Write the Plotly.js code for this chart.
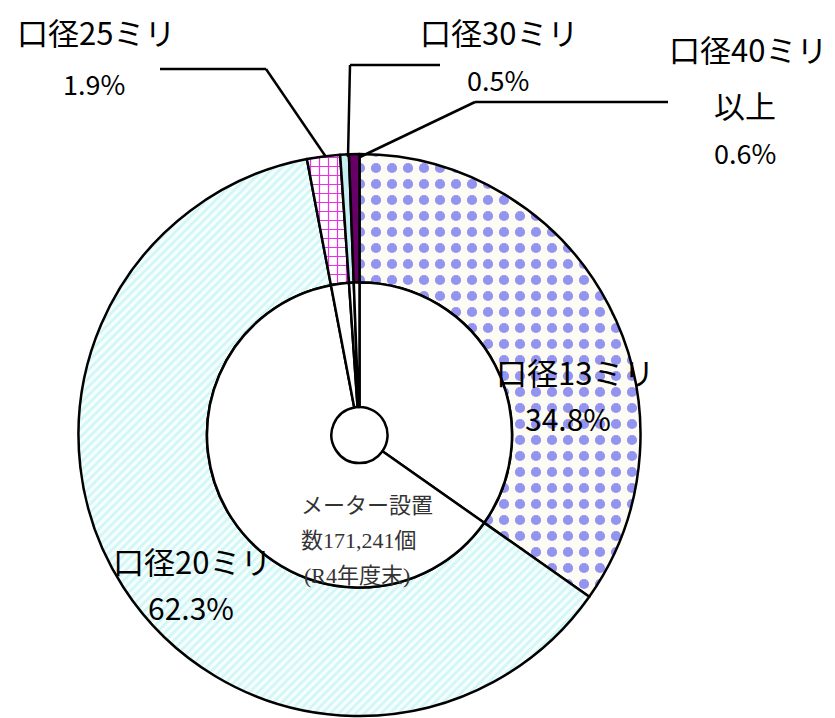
<!DOCTYPE html>
<html>
<head>
<meta charset="utf-8">
<script src="https://cdn.plot.ly/plotly-3.0.1.min.js"></script>
<style>html,body{margin:0;padding:0;background:#fff;overflow:hidden;}</style>
</head>
<body>
<div id="chart" style="width:835px;height:718px;"></div>
<script>
// Data
const categories = ['口径13ミリ', '口径20ミリ', '口径25ミリ', '口径30ミリ', '口径40ミリ以上'];
const shares = [34.8, 62.3, 1.9, 0.5, 0.6];
const labelNames = ['口径13ミリ', '口径20ミリ', '口径25ミリ', '口径30ミリ', '口径40ミリ', '以上'];
const centerLines = ['メーター設置', '数171,241個', '(R4年度末)'];

const W = 835, H = 718;
const px = x => x / W;
const py = y => 1 - y / H;

const outer = {
  type: 'pie',
  values: shares,
  labels: categories,
  sort: false,
  direction: 'clockwise',
  rotation: 0,
  hole: 0.543,
  textinfo: 'none',
  hoverinfo: 'label+percent',
  showlegend: false,
  domain: {x: [78.5 / W, 640.5 / W], y: [2 / H, 564 / H]},
  marker: {
    colors: ['#ffffff', '#e6fafa', '#ffffff', '#c8f0f4', '#660066'],
    line: {color: '#000000', width: 2.5},
    pattern: {
      shape: ['.', '/', '+', '', ''],
      fgcolor: ['#9494f0', '#d0f6f6', '#e633e6', '#c8f0f4', '#660066'],
      bgcolor: ['#fcfcf4', '#f6fefe', '#ffffff', '#c8f0f4', '#660066'],
      size: [16, 6, 9, 8, 8],
      solidity: [0.32, 0.45, 0.25, 0.3, 0.3],
      fillmode: 'replace'
    }
  }
};

const inner = {
  type: 'pie',
  values: shares,
  labels: categories,
  sort: false,
  direction: 'clockwise',
  rotation: 0,
  hole: 0.184,
  textinfo: 'none',
  hoverinfo: 'none',
  showlegend: false,
  domain: {x: [207 / W, 512 / W], y: [130.5 / H, 435.5 / H]},
  marker: {
    colors: ['#ffffff', '#ffffff', '#ffffff', '#ffffff', '#ffffff'],
    line: {color: '#000000', width: 2.5}
  }
};

const labFont = {family: '"Noto Sans CJK JP", "Noto Sans", sans-serif', size: 31, color: '#000'};
const pctFont = {family: '"Noto Sans CJK JP", "Noto Sans", sans-serif', size: 27, color: '#000'};
const pctFontIn = {family: '"Noto Sans CJK JP", "Noto Sans", sans-serif', size: 30, color: '#000'};
const ctrFont = {family: '"Liberation Serif", "Noto Sans CJK JP", serif', size: 22, color: '#333'};

function ann(text, x, y, font) {
  return {text: text, x: px(x), y: py(y), xref: 'paper', yref: 'paper',
          showarrow: false, xanchor: 'center', yanchor: 'middle', font: font};
}

const annotations = [
  ann(labelNames[2], 96, 32, labFont),
  ann(shares[2].toFixed(1) + '%', 94, 83, pctFont),
  ann(labelNames[3], 499, 32, labFont),
  ann(shares[3].toFixed(1) + '%', 498, 80, pctFont),
  ann(labelNames[4], 748, 49, labFont),
  ann(labelNames[5], 745, 104, labFont),
  ann(shares[4].toFixed(1) + '%', 745, 152, pctFont),
  ann(labelNames[0], 575, 372, labFont),
  ann(shares[0].toFixed(1) + '%', 568, 418, pctFontIn),
  ann(labelNames[1], 192, 560, labFont),
  ann(shares[1].toFixed(1) + '%', 191, 607, pctFontIn),
  ann(centerLines[0], 367, 505, ctrFont),
  ann(centerLines[1], 359, 540, ctrFont),
  ann(centerLines[2], 357, 575, ctrFont)
];

function seg(x0, y0, x1, y1) {
  return {type: 'line', xref: 'paper', yref: 'paper', x0: px(x0), y0: py(y0), x1: px(x1), y1: py(y1),
          line: {color: '#000', width: 2.5}};
}

const shapes = [
  seg(160, 69, 266, 69), seg(266, 69, 326, 157),
  seg(440, 65, 350, 65), seg(350, 65, 348, 157),
  seg(668, 102, 475, 102), seg(475, 102, 360, 157)
];

Plotly.newPlot('chart', [outer, inner], {
  width: W, height: H,
  margin: {l: 0, r: 0, t: 0, b: 0},
  paper_bgcolor: '#ffffff',
  annotations: annotations,
  shapes: shapes
}, {staticPlot: true});
</script>
</body>
</html>
